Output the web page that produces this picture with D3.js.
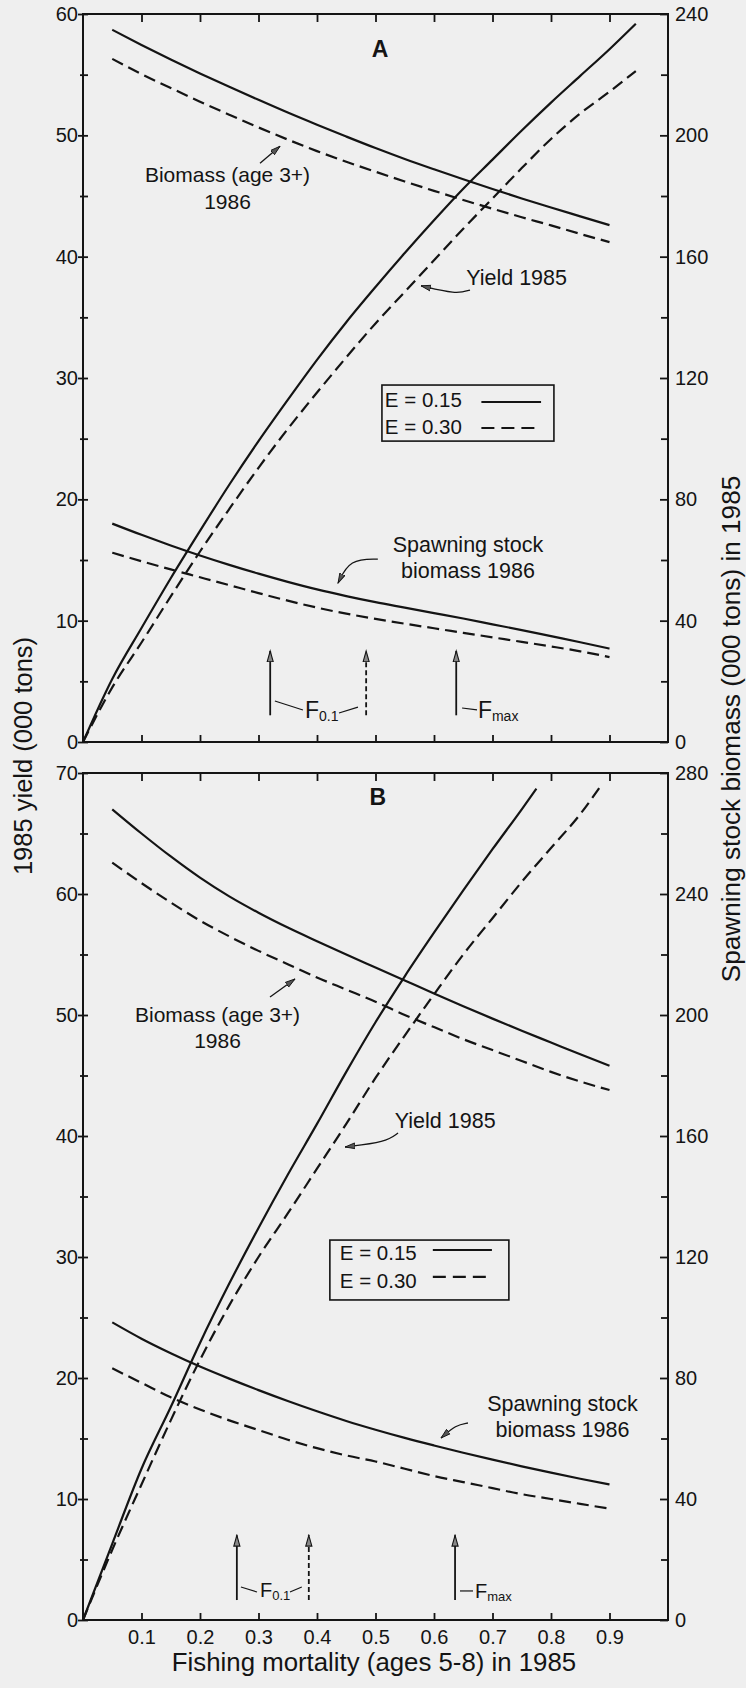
<!DOCTYPE html>
<html><head><meta charset="utf-8">
<script src="https://cdn.jsdelivr.net/npm/d3@7"></script>
<style>
html,body{margin:0;padding:0;background:#efefef;}
svg{display:block;}
</style></head><body>
<svg id="c" width="746" height="1688"></svg>
<script>
// ---------- DATA (values in 000 tons) ----------
const fBio = [0.05,0.10,0.15,0.20,0.25,0.30,0.35,0.40,0.45,0.50,0.55,0.60,0.65,0.70,0.75,0.80,0.85,0.90];
const fYieldA = [0,0.05,0.10,0.15,0.20,0.25,0.30,0.35,0.40,0.45,0.50,0.55,0.60,0.65,0.70,0.75,0.80,0.85,0.90,0.945];
const fYieldB15 = [0,0.05,0.10,0.15,0.20,0.25,0.30,0.35,0.40,0.45,0.50,0.55,0.60,0.65,0.70,0.75,0.775];
const fYieldB30 = [0,0.05,0.10,0.15,0.20,0.25,0.30,0.35,0.40,0.45,0.50,0.55,0.60,0.65,0.70,0.75,0.80,0.85,0.886];

// Panel A — yield (left axis)
const yieldA_E15 = [0,5.2,9.4,13.5,17.4,21.2,24.8,28.2,31.5,34.6,37.5,40.3,43.0,45.6,48.0,50.4,52.7,54.9,57.1,59.2];
const yieldA_E30 = [0,4.5,8.2,12.0,15.7,19.2,22.6,25.8,28.8,31.7,34.5,37.1,39.7,42.3,44.8,47.3,49.7,51.8,53.6,55.3];
// Panel A — biomass (right axis)
const bioA_E15 = [234.8,229.8,225.0,220.4,216.0,211.7,207.5,203.5,199.6,195.8,192.2,188.8,185.5,182.3,179.2,176.2,173.3,170.4];
const bioA_E30 = [225.2,220.2,215.6,211.1,206.8,202.6,198.6,194.8,191.3,188.0,184.8,181.7,178.7,175.8,173.0,170.3,167.5,164.8];
const ssbA_E15 = [72.0,68.3,64.8,61.5,58.4,55.5,52.8,50.3,48.1,46.1,44.3,42.5,40.7,38.8,36.9,34.9,32.9,30.8];
const ssbA_E30 = [62.4,59.6,56.9,54.3,51.7,49.1,46.6,44.3,42.3,40.6,39.0,37.5,36.0,34.5,33.0,31.5,29.9,28.0];

// Panel B — yield (left axis)
const yieldB_E15 = [0,6.3,12.5,17.6,22.9,27.8,32.4,36.8,41.0,45.3,49.4,53.2,56.8,60.3,63.7,67.0,68.7];
const yieldB_E30 = [0,5.8,11.2,16.5,21.5,26.0,30.0,33.6,37.3,41.0,44.8,48.3,51.7,55.0,58.0,61.0,63.8,66.6,69.0];
// Panel B — biomass (right axis)
const bioB_E15 = [268.0,260.0,252.4,245.4,239.2,233.8,228.9,224.4,220.0,215.7,211.4,207.1,202.9,198.8,194.8,190.9,187.0,183.2];
const bioB_E30 = [250.4,243.6,237.2,231.2,226.0,221.2,216.8,212.4,208.4,204.4,200.0,196.0,192.0,188.4,184.8,181.2,178.0,175.2];
const ssbB_E15 = [98.4,93.0,88.2,83.8,79.8,76.0,72.4,69.0,65.8,62.9,60.2,57.7,55.3,53.0,50.8,48.7,46.7,44.8];
const ssbB_E30 = [83.2,78.4,73.6,69.6,66.0,62.8,59.6,56.8,54.4,52.4,50.0,47.6,45.6,43.6,41.6,40.0,38.4,36.8];

// Reference points (fishing mortality)
const fRefA = {f01_E15:0.32, f01_E30:0.484, fmax:0.638};
const fRefB = {f01_E15:0.263, f01_E30:0.386, fmax:0.636};

// Tick values
const xTicks = [0.1,0.2,0.3,0.4,0.5,0.6,0.7,0.8,0.9];
const leftMajorA = [0,10,20,30,40,50,60];
const leftMinorA = [5,15,25,35,45,55];
const rightMajorA = [0,40,80,120,160,200,240];
const rightMinorA = [20,60,100,140,180,220];
const leftMajorB = [0,10,20,30,40,50,60,70];
const leftMinorB = [5,15,25,35,45,55,65];
const rightMajorB = [0,40,80,120,160,200,240,280];
const rightMinorB = [20,60,100,140,180,220,260];

const legendLabels = ["E = 0.15","E = 0.30"];

// ---------- DRAWING ----------
const FONT = '"Liberation Sans", Arial, Helvetica, sans-serif';
const INK = "#141414";
const svg = d3.select("#c");
svg.append("rect").attr("width",746).attr("height",1688).attr("fill","#efefef");

const defs = svg.append("defs");
defs.append("marker").attr("id","ah").attr("viewBox","0 -5 12 10")
  .attr("refX",11).attr("refY",0).attr("markerWidth",11).attr("markerHeight",9)
  .attr("markerUnits","userSpaceOnUse").attr("orient","auto")
  .append("path").attr("d","M0,-3.2L11,0L0,3.2Z").attr("fill","#555").attr("stroke",INK).attr("stroke-width",1);
defs.append("marker").attr("id","ahF").attr("viewBox","0 -5 13 10")
  .attr("refX",12).attr("refY",0).attr("markerWidth",13).attr("markerHeight",9)
  .attr("markerUnits","userSpaceOnUse").attr("orient","auto")
  .append("path").attr("d","M0,-3.4L12,0L0,3.4Z").attr("fill","#888").attr("stroke",INK).attr("stroke-width",1.2);

const x = d3.scaleLinear().domain([0,1]).range([83,668]);

const panels = [
  { name:"A",
    yL:d3.scaleLinear().domain([0,60]).range([742,14]),
    yR:d3.scaleLinear().domain([0,240]).range([742,14]),
    lMaj:leftMajorA, lMin:leftMinorA, rMaj:rightMajorA, rMin:rightMinorA,
    series:[
      {f:fYieldA, v:yieldA_E15, ax:"L", dash:false},
      {f:fYieldA, v:yieldA_E30, ax:"L", dash:true},
      {f:fBio, v:bioA_E15, ax:"R", dash:false},
      {f:fBio, v:bioA_E30, ax:"R", dash:true},
      {f:fBio, v:ssbA_E15, ax:"R", dash:false},
      {f:fBio, v:ssbA_E30, ax:"R", dash:true}
    ],
    xLabels:false, fref:fRefA,
    // annotation positions in data units (F, left-axis value)
    ann:{
      label:[0.508,56.46],
      bio:{at:[0.247,46.15,43.9], arrow:[[0.3026,47.7],[0.3368,49.1]]},
      yld:{at:[0.655,37.65], arrow:[[0.6615,37.25],[0.6376,36.9],[0.5778,37.6]]},
      ssb:{at:[0.658,15.66,13.5], arrow:[[0.504,15.08],[0.456,15.08],[0.436,13.1]]},
      arrowV:[2.2,7.5],
      f01:{at:[0.3795,1.95], lead1:[[0.328,3.38],[0.376,2.64]], lead2:[[0.4376,2.39],[0.47,2.88]]},
      fmax:{at:[0.675,1.95], lead:[[0.648,2.8],[0.6735,2.64]]},
      fsz:23, subsz:14,
      legend:{x0:0.511, x1:0.805, v0:29.42, v1:24.8, tx:0.516, rows:[27.58,25.35], lx:[0.681,0.783], ly:[28.02,25.88]}
    }
  },
  { name:"B",
    yL:d3.scaleLinear().domain([0,70]).range([1620,773]),
    yR:d3.scaleLinear().domain([0,280]).range([1620,773]),
    lMaj:leftMajorB, lMin:leftMinorB, rMaj:rightMajorB, rMin:rightMinorB,
    series:[
      {f:fYieldB15, v:yieldB_E15, ax:"L", dash:false},
      {f:fYieldB30, v:yieldB_E30, ax:"L", dash:true},
      {f:fBio, v:bioB_E15, ax:"R", dash:false},
      {f:fBio, v:bioB_E30, ax:"R", dash:true},
      {f:fBio, v:ssbB_E15, ax:"R", dash:false},
      {f:fBio, v:ssbB_E30, ax:"R", dash:true}
    ],
    xLabels:true, fref:fRefB,
    ann:{
      label:[0.504,67.36],
      bio:{at:[0.23,49.42,47.27], arrow:[[0.3197,51.49],[0.3624,52.98]]},
      yld:{at:[0.533,40.66], arrow:[[0.5385,40.25],[0.518,39.5],[0.448,39.09]]},
      ssb:{at:[0.8197,17.27,15.12], arrow:[[0.658,16.28],[0.6376,16.12],[0.612,15.04]]},
      arrowV:[1.65,7.0],
      f01:{at:[0.3026,1.9], lead1:[[0.27,2.73],[0.2974,2.31]], lead2:[[0.3538,2.31],[0.374,2.73]]},
      fmax:{at:[0.67,1.85], lead:[[0.6444,2.4],[0.6667,2.4]]},
      fsz:20, subsz:13,
      legend:{x0:0.422, x1:0.728, v0:31.4, v1:26.45, tx:0.439, rows:[29.75,27.44], lx:[0.598,0.699], ly:[30.58,28.35]}
    }
  }
];

function styleAxis(g, fs){
  g.select(".domain").remove();
  g.selectAll(".tick line").attr("stroke",INK).attr("stroke-width",1.8);
  g.selectAll(".tick text").attr("fill",INK).attr("font-size",fs).attr("font-family",FONT);
  g.attr("font-family",FONT);
}

panels.forEach(p=>{
  const g = svg.append("g");
  const yTop = p.yL.range()[1], yBot = p.yL.range()[0];

  // left axis
  const gl = g.append("g").attr("transform",`translate(${x(0)},0)`)
    .call(d3.axisLeft(p.yL).tickValues(p.lMaj).tickSize(5).tickPadding(0).tickFormat(d3.format("d")));
  styleAxis(gl,20);
  gl.selectAll(".tick line").attr("x1",5);
  const glm = g.append("g").attr("transform",`translate(${x(0)},0)`)
    .call(d3.axisLeft(p.yL).tickValues(p.lMin).tickSize(3).tickFormat(""));
  styleAxis(glm,20);
  glm.selectAll(".tick line").attr("x1",5);

  // right axis (ticks inward)
  const gr = g.append("g").attr("transform",`translate(${x(1)},0)`)
    .call(d3.axisRight(p.yR).tickValues(p.rMaj).tickSize(-8).tickPadding(7).tickFormat(d3.format("d")));
  styleAxis(gr,20);
  const grm = g.append("g").attr("transform",`translate(${x(1)},0)`)
    .call(d3.axisRight(p.yR).tickValues(p.rMin).tickSize(-7).tickFormat(""));
  styleAxis(grm,20);

  // top & bottom
  const gt = g.append("g").attr("transform",`translate(0,${yTop})`)
    .call(d3.axisTop(x).tickValues(xTicks).tickSize(-8).tickFormat(""));
  styleAxis(gt,20);
  const gb = g.append("g").attr("transform",`translate(0,${yBot})`)
    .call(d3.axisBottom(x).tickValues(xTicks).tickSize(-7).tickPadding(10)
      .tickFormat(p.xLabels ? d3.format(".1f") : ""));
  styleAxis(gb,20);

  // frame
  g.append("rect").attr("x",x(0)).attr("y",yTop).attr("width",x(1)-x(0)).attr("height",yBot-yTop)
    .attr("fill","none").attr("stroke",INK).attr("stroke-width",2);

  // curves
  p.series.forEach(s=>{
    const ys = s.ax==="L" ? p.yL : p.yR;
    const pts = s.f.map((f,i)=>[f,s.v[i]]);
    g.append("path").datum(pts)
      .attr("d",d3.line().x(d=>x(d[0])).y(d=>ys(d[1])).curve(d3.curveMonotoneX))
      .attr("fill","none").attr("stroke",INK).attr("stroke-width",2.2)
      .attr("stroke-dasharray", s.dash ? "12,6" : null);
  });

  const a = p.ann, yL = p.yL;
  const P = d=>[x(d[0]), yL(d[1])];
  const txt = (xx,yy,t,anchor,fs,weight)=>g.append("text").attr("x",xx).attr("y",yy)
      .attr("text-anchor",anchor).attr("font-size",fs).attr("font-family",FONT)
      .attr("font-weight",weight||"normal").attr("fill",INK).text(t);

  // panel letter
  txt(x(a.label[0]), yL(a.label[1]), p.name, "middle", 23, "bold");

  // annotations
  txt(x(a.bio.at[0]), yL(a.bio.at[1]), "Biomass (age 3+)", "middle", 21);
  txt(x(a.bio.at[0]), yL(a.bio.at[2]), "1986", "middle", 21);
  g.append("path").attr("d",d3.line()(a.bio.arrow.map(P))).attr("fill","none")
    .attr("stroke",INK).attr("stroke-width",1.3).attr("marker-end","url(#ah)");

  txt(x(a.yld.at[0]), yL(a.yld.at[1]), "Yield 1985", "start", 21.5);
  g.append("path").attr("d",d3.line().curve(d3.curveBasis)(a.yld.arrow.map(P))).attr("fill","none")
    .attr("stroke",INK).attr("stroke-width",1.3).attr("marker-end","url(#ah)");

  txt(x(a.ssb.at[0]), yL(a.ssb.at[1]), "Spawning stock", "middle", 21.5);
  txt(x(a.ssb.at[0]), yL(a.ssb.at[2]), "biomass 1986", "middle", 21.5);
  g.append("path").attr("d",d3.line().curve(d3.curveBasis)(a.ssb.arrow.map(P))).attr("fill","none")
    .attr("stroke",INK).attr("stroke-width",1.3).attr("marker-end","url(#ah)");

  // F reference arrows
  [["f01_E15",null],["f01_E30","5,3"],["fmax",null]].forEach(([k,dash])=>{
    const fx = x(p.fref[k]);
    g.append("line").attr("x1",fx).attr("x2",fx).attr("y1",yL(a.arrowV[0])).attr("y2",yL(a.arrowV[1]))
      .attr("stroke",INK).attr("stroke-width",1.8).attr("stroke-dasharray",dash)
      .attr("marker-end","url(#ahF)");
  });
  const tF = txt(x(a.f01.at[0]), yL(a.f01.at[1]), "F", "start", a.fsz);
  tF.append("tspan").attr("font-size",a.subsz).attr("dy",3).text("0.1");
  [a.f01.lead1, a.f01.lead2, a.fmax.lead].forEach(l=>{
    g.append("path").attr("d",d3.line()(l.map(P))).attr("stroke",INK).attr("stroke-width",1.2).attr("fill","none");
  });
  const tM = txt(x(a.fmax.at[0]), yL(a.fmax.at[1]), "F", "start", a.fsz);
  tM.append("tspan").attr("font-size",a.subsz).attr("dy",3).text("max");

  // legend
  const L = a.legend;
  g.append("rect").attr("x",x(L.x0)).attr("y",yL(L.v0)).attr("width",x(L.x1)-x(L.x0)).attr("height",yL(L.v1)-yL(L.v0))
    .attr("fill","none").attr("stroke",INK).attr("stroke-width",1.6);
  legendLabels.forEach((lab,i)=>{
    txt(x(L.tx), yL(L.rows[i]), lab, "start", 20.5);
    g.append("line").attr("x1",x(L.lx[0])).attr("x2",x(L.lx[1])).attr("y1",yL(L.ly[i])).attr("y2",yL(L.ly[i]))
      .attr("stroke",INK).attr("stroke-width",2.2).attr("stroke-dasharray", i===1 ? "13,7" : null);
  });
});

// axis titles
svg.append("text").attr("transform","translate(23,756) rotate(-90)").attr("dy","0.36em")
  .attr("text-anchor","middle").attr("font-size",25.5).attr("font-family",FONT).attr("fill",INK)
  .text("1985 yield (000 tons)");
svg.append("text").attr("transform","translate(731,729) rotate(-90)").attr("dy","0.36em")
  .attr("text-anchor","middle").attr("font-size",26.2).attr("font-family",FONT).attr("fill",INK)
  .text("Spawning stock biomass (000 tons) in 1985");
svg.append("text").attr("x",374).attr("y",1671)
  .attr("text-anchor","middle").attr("font-size",25.8).attr("font-family",FONT).attr("fill",INK)
  .text("Fishing mortality (ages 5-8) in 1985");
</script>
</body></html>
